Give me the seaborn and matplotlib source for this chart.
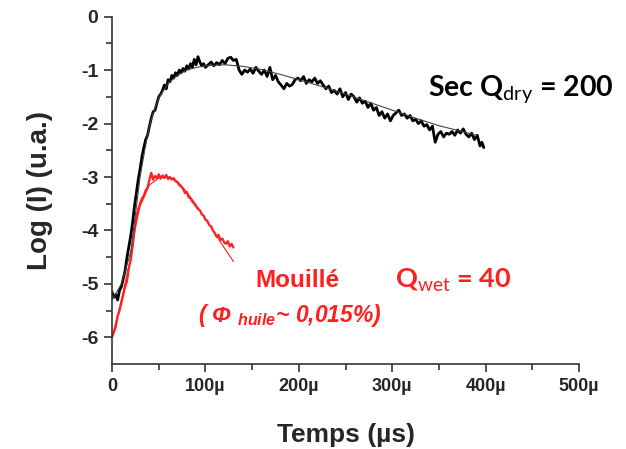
import numpy as np
import pandas as pd
import matplotlib
matplotlib.use("Agg")
import matplotlib.pyplot as plt
import seaborn as sns

# ---- data ----
dry_t = [0, 2, 4, 6, 8, 10, 12, 14, 16, 18, 20, 22, 24, 26, 28, 30, 32, 34, 36, 38,
         40, 42, 44, 46, 48, 50, 52, 54, 56, 58, 60, 62, 64, 66, 68, 70, 72, 74, 76, 78,
         80, 82, 84, 86, 88, 90, 92, 94, 96, 98, 100, 103, 106, 109, 112, 115, 118, 121, 124, 127,
         130, 133, 136, 139, 142, 145, 148, 151, 154, 157, 160, 163, 166, 169, 172, 175, 178, 181, 184, 187,
         190, 193, 196, 199, 202, 205, 208, 211, 214, 217, 220, 223, 226, 229, 232, 235, 238, 241, 244, 247,
         250, 253, 256, 259, 262, 265, 268, 271, 274, 277, 280, 283, 286, 289, 292, 295, 298, 301, 304, 307,
         310, 313, 316, 319, 322, 325, 328, 331, 334, 337, 340, 343, 346, 349, 352, 355, 358, 361, 364, 367,
         370, 373, 376, 379, 382, 385, 388, 391, 394, 396, 398]
dry_y = [-5.15, -5.25, -5.2, -5.3, -5.12, -5.05, -4.9, -4.75, -4.5, -4.3, -4.1, -3.85, -3.55, -3.3, -3.05, -2.85, -2.62, -2.45, -2.3, -2.22,
         -2.05, -1.9, -1.78, -1.75, -1.62, -1.5, -1.45, -1.38, -1.28, -1.35, -1.18, -1.22, -1.1, -1.15, -1.05, -1.1, -1.0, -1.05, -0.97, -1.02,
         -0.92, -0.98, -0.88, -0.95, -0.8, -0.9, -0.75, -0.85, -0.92, -0.88, -0.95, -0.9, -0.85, -0.92, -0.86, -0.9, -0.82, -0.88, -0.78, -0.76,
         -0.82, -0.8, -1.0, -1.08, -1.0, -1.04, -0.98, -1.06, -0.95, -1.02, -1.08, -1.0, -1.12, -0.95, -1.18, -1.1, -1.22, -1.28, -1.35, -1.25,
         -1.3, -1.27, -1.18, -1.15, -1.2, -1.12, -1.25, -1.18, -1.22, -1.15, -1.25, -1.2, -1.28, -1.35, -1.3, -1.42, -1.38, -1.45, -1.35, -1.5,
         -1.42, -1.55, -1.45, -1.5, -1.6, -1.52, -1.62, -1.58, -1.7, -1.62, -1.75, -1.7, -1.85, -1.78, -1.9, -1.82, -1.95, -1.85, -1.8, -1.75,
         -1.85, -1.82, -1.9, -1.85, -1.95, -1.92, -2.0, -1.95, -2.05, -2.02, -2.12, -2.05, -2.35, -2.2, -2.15, -2.25, -2.18, -2.2, -2.15, -2.22,
         -2.12, -2.18, -2.1, -2.2, -2.25, -2.18, -2.3, -2.22, -2.42, -2.35, -2.45]

dry_fit_t = [0, 10, 20, 25, 30, 35, 40, 45, 50, 60, 70, 80, 90, 100, 120, 140, 160, 180, 200,
             225, 250, 275, 300, 325, 350, 375, 390]
dry_fit_y = [-5.3, -5.0, -4.4, -3.7, -3.0, -2.5, -2.05, -1.75, -1.52, -1.25, -1.1, -1.0, -0.95, -0.92,
             -0.9, -0.93, -0.99, -1.08, -1.18, -1.31, -1.45, -1.6, -1.75, -1.9, -2.04, -2.15, -2.22]

wet_t = [0, 2, 4, 6, 8, 10, 12, 14, 16, 18, 20, 22, 24, 26, 28, 30, 32, 34, 36, 38,
         40, 42, 44, 46, 48, 50, 52, 54, 56, 58, 60, 62, 64, 66, 68, 70, 72, 74, 76, 78,
         80, 82, 84, 86, 88, 90, 92, 94, 96, 98, 100, 102, 104, 106, 108, 110, 112, 114, 116, 118,
         120, 122, 124, 126, 128, 130]
wet_y = [-6.0, -5.9, -5.8, -5.6, -5.5, -5.35, -5.2, -5.05, -4.95, -4.7, -4.55, -4.3, -4.0, -3.75, -3.6, -3.5, -3.4, -3.35, -3.25, -3.2,
         -3.05, -2.92, -3.05, -2.98, -3.02, -2.95, -3.03, -2.97, -3.02, -2.96, -3.04, -3.0, -3.05, -3.02, -3.08, -3.1, -3.15, -3.18, -3.22, -3.3,
         -3.28, -3.38, -3.4, -3.46, -3.5, -3.55, -3.6, -3.62, -3.7, -3.72, -3.8, -3.82, -3.9, -3.92, -4.0, -4.05, -4.12, -4.08, -4.18, -4.15,
         -4.22, -4.25, -4.2, -4.3, -4.25, -4.32]

wet_fit_t = [0, 10, 20, 25, 30, 40, 50, 60, 70, 80, 90, 100, 110, 120, 130]
wet_fit_y = [-6.0, -5.3, -4.5, -3.95, -3.55, -3.15, -3.02, -3.0, -3.08, -3.28, -3.52, -3.78, -4.05, -4.32, -4.58]

x_ticks = [0, 100, 200, 300, 400, 500]
x_tick_labels = ["0", "100µ", "200µ", "300µ", "400µ", "500µ"]
y_ticks = [0, -1, -2, -3, -4, -5, -6]
y_tick_labels = ["0", "-1", "-2", "-3", "-4", "-5", "-6"]

RED = "#ff1f1f"

sns.set_style("ticks")
plt.rcParams["font.family"] = ["Liberation Sans", "DejaVu Sans"]
plt.rcParams["mathtext.fontset"] = "custom"
plt.rcParams["mathtext.rm"] = "Lato"
plt.rcParams["mathtext.it"] = "Liberation Sans:italic:bold"

fig = plt.figure(figsize=(6.26, 4.49), dpi=100)
ax = fig.add_axes([0.179, 0.189, 0.746, 0.774])

df_dry = pd.DataFrame({"t": dry_t, "y": dry_y})
df_dry_fit = pd.DataFrame({"t": dry_fit_t, "y": dry_fit_y})
df_wet = pd.DataFrame({"t": wet_t, "y": wet_y})
df_wet_fit = pd.DataFrame({"t": wet_fit_t, "y": wet_fit_y})

sns.lineplot(data=df_wet, x="t", y="y", ax=ax, color=RED, lw=1.6, sort=False)
sns.lineplot(data=df_wet_fit, x="t", y="y", ax=ax, color=RED, lw=0.8, sort=False)
sns.lineplot(data=df_dry, x="t", y="y", ax=ax, color="black", lw=2.0, sort=False)
sns.lineplot(data=df_dry_fit, x="t", y="y", ax=ax, color="#444444", lw=0.8, sort=False)

ax.set_xlim(0, 500)
ax.set_ylim(-6.5, 0)
ax.set_xticks(x_ticks)
ax.set_xticklabels(x_tick_labels)
ax.set_yticks(y_ticks)
ax.set_yticklabels(y_tick_labels)
ax.set_xticks([50, 150, 250, 350, 450], minor=True)
ax.set_yticks([-0.5, -1.5, -2.5, -3.5, -4.5, -5.5], minor=True)

for s in ["top", "right"]:
    ax.spines[s].set_visible(False)
for s in ["left", "bottom"]:
    ax.spines[s].set_color("#333333")
    ax.spines[s].set_linewidth(1.2)
ax.tick_params(which="major", direction="out", length=6, width=1.2, color="#333333", pad=4)
ax.tick_params(axis="x", which="major", labelsize=13)
ax.tick_params(axis="y", which="major", labelsize=14)
ax.tick_params(which="minor", direction="out", length=4, width=1.2, color="#333333")
for lab in ax.get_xticklabels() + ax.get_yticklabels():
    lab.set_fontweight("bold")

ax.set_xlabel("Temps (µs)", fontsize=19, fontweight="bold", labelpad=20)
ax.set_ylabel("Log (I) (u.a.)", fontsize=20, fontweight="bold", labelpad=20)

ax.text(338, -1.47, r"Sec Q$_{\mathrm{dry}}$ = 200", fontsize=20.5, fontweight="bold",
        family="Lato", color="black", ha="left", va="baseline", clip_on=False)
ax.text(153, -5.06, "Mouillé", fontsize=17.5, fontweight="bold", color=RED,
        ha="left", va="baseline", clip_on=False)
ax.text(303, -5.06, r"Q$_{\mathrm{wet}}$ = 40", fontsize=19.5, fontweight="bold",
        family="Lato", color=RED, ha="left", va="baseline", clip_on=False)
ax.text(92, -5.71, r"( Φ $_{\mathit{huile}}$~ 0,015%)", fontsize=16.5, fontweight="bold",
        style="italic", color=RED, ha="left", va="baseline", clip_on=False)

fig.savefig("out.png", dpi=100)
